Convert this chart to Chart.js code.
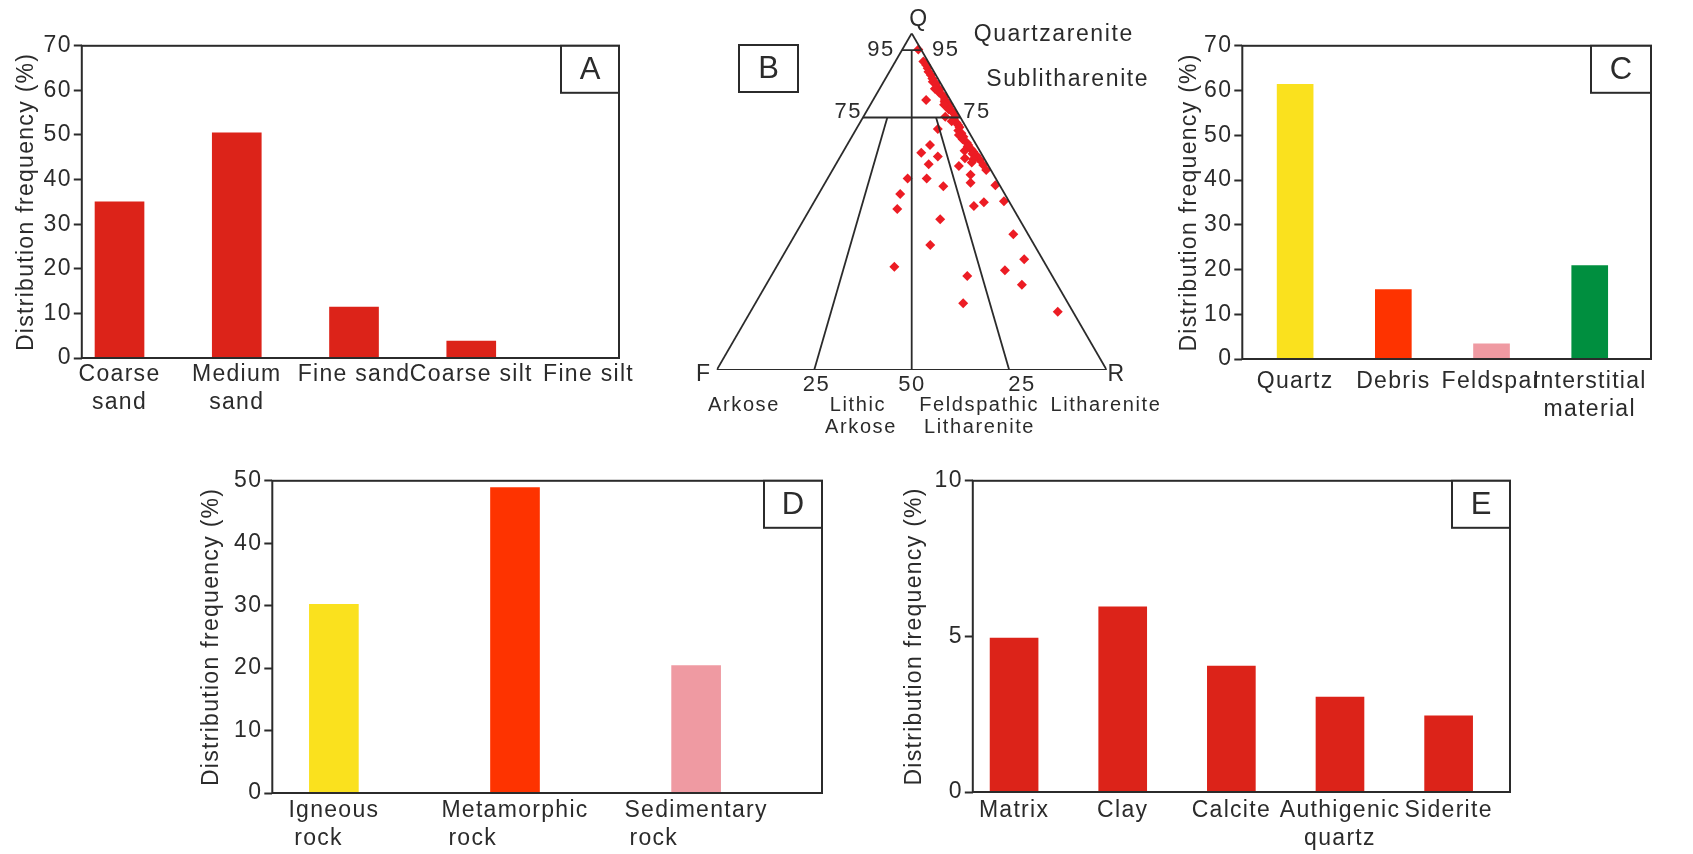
<!DOCTYPE html>
<html>
<head>
<meta charset="utf-8">
<script src="https://cdn.jsdelivr.net/npm/chart.js@4.4.1/dist/chart.umd.min.js"></script>
<style>
html, body { margin: 0; padding: 0; background: #fff; }
body { width: 1693px; height: 854px; position: relative; overflow: hidden; }
canvas { position: absolute; }
</style>
</head>
<body>
<canvas id="chartA"></canvas>
<canvas id="chartB"></canvas>
<canvas id="chartC"></canvas>
<canvas id="chartD"></canvas>
<canvas id="chartE"></canvas>
<script>
// A - grain size distribution
const grainSizes = [['Coarse', 'sand'], ['Medium', 'sand'], 'Fine sand', 'Coarse silt', 'Fine silt'];
const grainFreq = [35, 50.5, 11.4, 3.8, 0];
const yTicksA = [0, 10, 20, 30, 40, 50, 60, 70];

// B - QFR ternary plot (Q = quartz, R = rock fragments, F = 100 - Q - R)
const qValues = [95.2, 91.6, 90.6, 89.6, 88.6, 87.6, 86.6, 85.6, 85.1, 84.0, 83.2, 82.4, 81.7, 81.0, 80.2,
  79.7, 79.0, 78.2, 77.4, 76.7, 76.2, 75.2, 74.4, 73.4, 72.8, 72.1, 71.1, 70.3, 69.3, 68.5, 67.5, 66.8,
  66.3, 65.5, 64.8, 64.2, 63.6, 62.9, 62.4, 60.9, 59.4, 83.5, 78.8, 73.9, 69.8, 65.1, 61.6,
  62.9, 62.6, 60.6, 58.0, 55.6, 54.9, 50.1, 48.7, 49.8, 40.3, 32.9, 29.6, 25.3, 17.3, 27.9, 19.8,
  37.1, 44.8, 54.6, 56.9, 56.9, 52.3, 47.8, 30.7, 61.1, 63.4, 64.5, 66.8, 71.6, 75.2, 80.2];
const rValues = [4.1, 7.2, 8.4, 9.3, 10.0, 11.1, 12.0, 12.6, 13.7, 14.6, 15.5, 15.8, 17.0, 17.8, 18.4,
  18.6, 19.9, 20.5, 20.8, 22.2, 22.7, 23.5, 23.6, 24.8, 25.5, 26.2, 26.4, 27.6, 28.6, 28.8, 30.4, 31.1,
  31.2, 32.6, 33.4, 33.5, 34.9, 35.6, 36.3, 37.9, 39.4, 14.2, 18.9, 23.3, 27.2, 31.0, 34.6,
  32.2, 34.5, 31.8, 36.1, 37.3, 44.0, 48.6, 41.6, 43.6, 55.9, 62.4, 59.1, 65.6, 78.8, 50.3, 53.3,
  36.2, 34.9, 30.8, 25.4, 20.5, 20.9, 22.4, 30.2, 23.8, 25.0, 20.2, 21.3, 20.9, 21.0, 13.6];

// C - framework components
const components = ['Quartz', 'Debris', 'Feldspar', ['Interstitial', 'material']];
const componentFreq = [61.4, 15.5, 3.4, 20.9];
const yTicksC = [0, 10, 20, 30, 40, 50, 60, 70];

// D - rock debris types
const debrisTypes = [['Igneous', 'rock'], ['Metamorphic', 'rock'], ['Sedimentary', 'rock']];
const debrisFreq = [30.2, 48.9, 20.4];
const yTicksD = [0, 10, 20, 30, 40, 50];

// E - interstitial material
const fillTypes = ['Matrix', 'Clay', 'Calcite', ['Authigenic', 'quartz'], 'Siderite'];
const fillFreq = [4.95, 5.95, 4.05, 3.05, 2.45];
const yTicksE = [0, 5, 10];

const FONT = "'Liberation Sans', Arial, sans-serif";
const INK = '#2b2b2b';
const RED = '#dc2319';
const YELLOW = '#fae11e';
const ORANGE = '#fe3300';
const PINK = '#ef9aa2';
const GREEN = '#008f3f';
const TRACK = '1.3px';

Chart.defaults.font.family = FONT;
Chart.defaults.color = INK;

// wider letter spacing like the original figure
const spacing = {
  id: 'spacing',
  beforeLayout(chart) { chart.ctx.letterSpacing = TRACK; },
  beforeDraw(chart) { chart.ctx.letterSpacing = TRACK; }
};

// plot frame and the panel letter box
const frame = {
  id: 'frame',
  afterDatasetsDraw(chart, args, opts) {
    const ctx = chart.ctx, a = chart.chartArea;
    ctx.save();
    ctx.strokeStyle = INK;
    ctx.lineWidth = 2;
    if (opts.rect) ctx.strokeRect(a.left, a.top, a.right - a.left, a.bottom - a.top);
    if (opts.letter) {
      const w = opts.boxW || 58, h = 47;
      const x = opts.boxX != null ? a.left + opts.boxX : a.right - w;
      const y = opts.boxY != null ? a.top + opts.boxY : a.top;
      ctx.fillStyle = '#fff';
      ctx.fillRect(x, y, w, h);
      ctx.strokeRect(x, y, w, h);
      ctx.fillStyle = INK;
      ctx.font = '31px ' + FONT;
      ctx.letterSpacing = '0px';
      ctx.textAlign = 'center';
      ctx.textBaseline = 'middle';
      ctx.fillText(opts.letter, x + w / 2, y + h / 2 + 1);
    }
    ctx.restore();
  }
};

function place(id, left, top, width, height) {
  const c = document.getElementById(id);
  c.width = Math.round(width);
  c.height = Math.round(height);
  c.style.left = Math.round(left) + 'px';
  c.style.top = Math.round(top) + 'px';
  c.style.width = Math.round(width) + 'px';
  c.style.height = Math.round(height) + 'px';
  return c;
}

// second label line starts just right of the first one (panel D)
const measurer = document.createElement('canvas').getContext('2d');
function leftAlignLines(lines) {
  measurer.font = '23px ' + FONT;
  measurer.letterSpacing = TRACK;
  const w1 = measurer.measureText(lines[0]).width;
  const w2 = measurer.measureText(lines[1]).width;
  const ws = measurer.measureText(' ').width;
  const n = Math.max(0, Math.round((w1 - 12 - w2) / ws));
  return [lines[0], lines[1] + ' '.repeat(n)];
}

function barPanel(id, p) {
  const [L, T, R, B] = p.plot;
  const left = p.titleX - 13.8;
  const yw = L - left;
  const top = T - 15;
  const xh = 70;
  const canvas = place(id, left, top, R + 30 - left, B + xh - top);
  const labels = p.leftAlign ? p.labels.map(l => Array.isArray(l) ? leftAlignLines(l) : l) : p.labels;
  const yt = p.yTicks;
  return new Chart(canvas, {
    type: 'bar',
    data: {
      datasets: [{
        data: p.values.map((v, i) => ({ x: i, y: v })),
        backgroundColor: p.colors,
        borderWidth: 0,
        barThickness: p.barWidth
      }]
    },
    options: {
      responsive: false,
      animation: false,
      layout: { padding: { left: 0, top: 15, right: 30, bottom: 0 } },
      plugins: {
        legend: { display: false },
        tooltip: { enabled: false },
        frame: { rect: true, letter: p.letter, boxW: p.boxW }
      },
      scales: {
        x: {
          type: 'linear',
          min: p.xRange[0],
          max: p.xRange[1],
          offset: false,
          grid: { display: false, drawTicks: false },
          border: { display: false },
          afterBuildTicks: s => { s.ticks = labels.map((_, i) => ({ value: i })); },
          ticks: {
            autoSkip: false,
            maxRotation: 0,
            padding: p.labelPad,
            color: INK,
            font: { family: FONT, size: 23, lineHeight: 1.2 },
            callback: v => labels[v]
          },
          afterFit: s => { s.height = xh; }
        },
        y: {
          min: yt[0],
          max: yt[yt.length - 1],
          ticks: { stepSize: yt[1] - yt[0], padding: 2, color: INK, font: { family: FONT, size: 23 } },
          grid: { drawOnChartArea: false, tickLength: 8, tickWidth: 2, color: INK },
          border: { display: false },
          title: {
            display: true,
            text: 'Distribution frequency (%)',
            color: INK,
            padding: 0,
            font: { family: FONT, size: 23 }
          },
          afterFit: s => { s.width = yw; }
        }
      }
    },
    plugins: [spacing, frame]
  });
}

barPanel('chartA', {
  plot: [82, 45, 619, 358], titleX: 27,
  labels: grainSizes, values: grainFreq, yTicks: yTicksA,
  colors: RED, barWidth: 49, xRange: [-0.3217, 4.26], labelPad: 3, letter: 'A'
});

barPanel('chartC', {
  plot: [1242, 45, 1651, 359], titleX: 1189.5,
  labels: components, values: componentFreq, yTicks: yTicksC,
  colors: [YELLOW, ORANGE, PINK, GREEN], barWidth: 36, xRange: [-0.538, 3.624], labelPad: 9,
  letter: 'C', boxW: 60
});

barPanel('chartD', {
  plot: [272, 480, 822, 793], titleX: 211.5,
  labels: debrisTypes, values: debrisFreq, yTicks: yTicksD, leftAlign: true,
  colors: [YELLOW, ORANGE, PINK], barWidth: 49, xRange: [-0.34, 2.695], labelPad: 4, letter: 'D'
});

barPanel('chartE', {
  plot: [973, 480, 1510, 792], titleX: 915,
  labels: fillTypes, values: fillFreq, yTicks: yTicksE,
  colors: RED, barWidth: 48, xRange: [-0.38, 4.565], labelPad: 5, letter: 'E'
});

// ---- B: Folk QFR triangle ----
const tern = (q, r) => ({ x: r + q / 2, y: q });

// classification boundaries as [Q, R] pairs
const folkLines = [
  [[0, 0], [0, 100]],
  [[0, 0], [100, 0]],
  [[0, 100], [100, 0]],
  [[95, 0], [95, 5]],
  [[75, 0], [75, 25]],
  [[95, 2.5], [0, 50]],
  [[75, 6.25], [0, 25]],
  [[75, 18.75], [0, 75]]
];

// text placed in the triangle's plotting space
const folkText = [
  ['Q', 51.9, 104, 'center', 23],
  ['95', 45.7, 95, 'right', 22],
  ['95', 55.2, 95, 'left', 22],
  ['75', 37.3, 76.5, 'right', 22],
  ['75', 63.2, 76.5, 'left', 22],
  ['F', -1.3, -1.5, 'right', 23],
  ['R', 100.2, -1.5, 'left', 23],
  ['25', 25.6, -4.5, 'center', 22],
  ['50', 50.1, -4.5, 'center', 22],
  ['25', 78.3, -4.5, 'center', 22],
  ['Arkose', 7.0, -10.4, 'center', 20],
  ['Lithic', 36.2, -10.4, 'center', 20],
  ['Arkose', 37.0, -17.2, 'center', 20],
  ['Feldspathic', 67.3, -10.4, 'center', 20],
  ['Litharenite', 67.4, -17.2, 'center', 20],
  ['Litharenite', 99.8, -10.4, 'center', 20],
  ['Quartzarenite', 65.9, 99.5, 'left', 23],
  ['Sublitharenite', 69.1, 86.1, 'left', 23]
];

const folkLabels = {
  id: 'folkLabels',
  afterDraw(chart) {
    const ctx = chart.ctx, xs = chart.scales.x, ys = chart.scales.y;
    ctx.save();
    ctx.fillStyle = INK;
    ctx.textBaseline = 'middle';
    ctx.letterSpacing = '1.6px';
    folkText.forEach(([t, x, y, align, size]) => {
      ctx.font = size + 'px ' + FONT;
      ctx.textAlign = align;
      ctx.fillText(t, xs.getPixelForValue(x), ys.getPixelForValue(y));
    });
    ctx.restore();
  }
};

const bLeft = 640, bTop = 0, bRight = 1180, bBottom = 440;
const triArea = { left: 716.7, top: 33.3, right: 1106.7, bottom: 370 };
const canvasB = place('chartB', bLeft, bTop, bRight - bLeft, bBottom - bTop);

new Chart(canvasB, {
  type: 'scatter',
  data: {
    datasets: folkLines.map(seg => ({
      data: seg.map(([q, r]) => tern(q, r)),
      showLine: true,
      borderColor: INK,
      borderWidth: 1.8,
      pointRadius: 0
    })).concat([{
      data: qValues.map((q, i) => tern(q, rValues[i])),
      pointStyle: 'rectRot',
      pointRadius: 5,
      backgroundColor: '#ec1c24',
      borderWidth: 0
    }])
  },
  options: {
    responsive: false,
    animation: false,
    layout: {
      padding: {
        left: triArea.left - bLeft,
        top: triArea.top - bTop,
        right: bRight - triArea.right,
        bottom: bBottom - triArea.bottom
      }
    },
    plugins: {
      legend: { display: false },
      tooltip: { enabled: false },
      frame: { rect: false, letter: 'B', boxX: 22.3, boxY: 11.7, boxW: 59 }
    },
    scales: {
      x: { type: 'linear', min: 0, max: 100, display: false },
      y: { type: 'linear', min: 0, max: 100, display: false }
    }
  },
  plugins: [frame, folkLabels]
});
</script>
</body>
</html>
